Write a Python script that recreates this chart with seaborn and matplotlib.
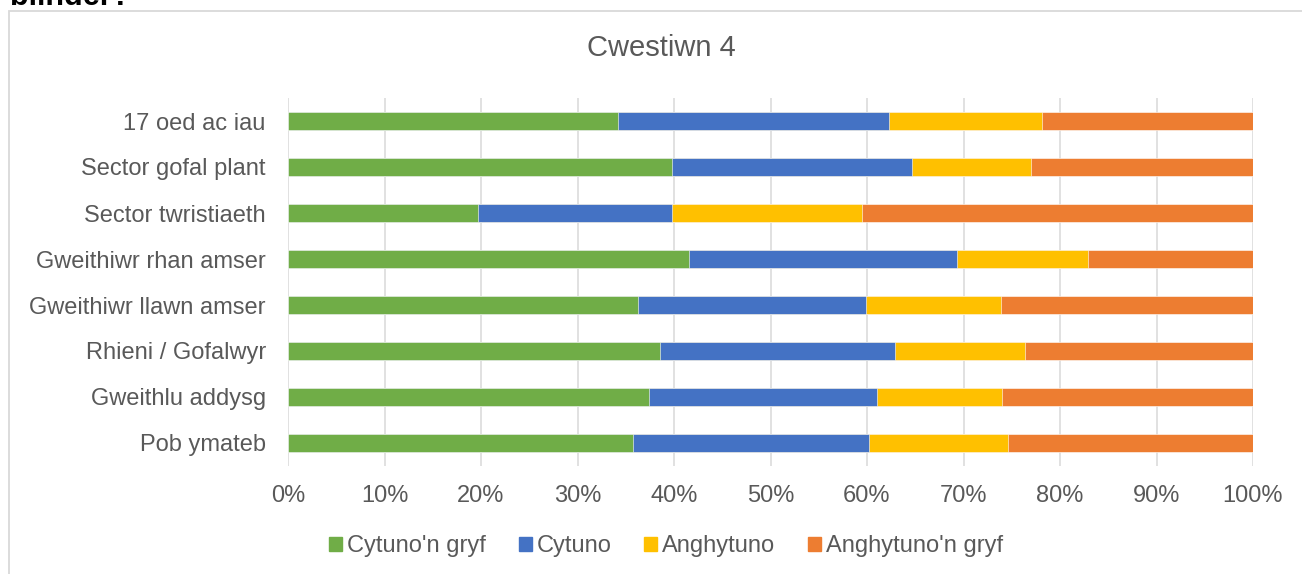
import seaborn as sns
import matplotlib.pyplot as plt
import matplotlib.patches as mpatches
import pandas as pd
import numpy as np

groups = ["17 oed ac iau", "Sector gofal plant", "Sector twristiaeth",
          "Gweithiwr rhan amser", "Gweithiwr llawn amser", "Rhieni / Gofalwyr",
          "Gweithlu addysg", "Pob ymateb"]
series = ["Cytuno'n gryf", "Cytuno", "Anghytuno", "Anghytuno'n gryf"]
cytuno_gryf = [34.2, 39.8, 19.7, 41.6, 36.3, 38.5, 37.4, 35.8]
cytuno = [28.1, 24.9, 20.1, 27.7, 23.6, 24.4, 23.6, 24.4]
anghytuno = [15.8, 12.3, 19.7, 13.6, 14.0, 13.5, 13.0, 14.4]
anghytuno_gryf = [21.9, 23.0, 40.5, 17.1, 26.1, 23.6, 26.0, 25.4]
colors = ["#70AD47", "#4472C4", "#FFC000", "#ED7D31"]

df = pd.DataFrame({"Grwp": groups, series[0]: cytuno_gryf, series[1]: cytuno,
                   series[2]: anghytuno, series[3]: anghytuno_gryf})
# stacked as percent of row total
vals = df[series].div(df[series].sum(axis=1), axis=0) * 100
cum = vals.cumsum(axis=1)

sns.set_theme(style="whitegrid")
plt.rcParams['font.family'] = ['Liberation Sans', 'DejaVu Sans']
txt = "#595959"

fig = plt.figure(figsize=(13.02, 5.74), dpi=100)
ax = fig.add_axes([288/1302, 1-466/574, (1253-288)/1302, (466-98)/574])

# draw longest cumulative first so shorter ones sit on top
for s, c in reversed(list(zip(series, colors))):
    sns.barplot(x=cum[s], y=df["Grwp"], color=c, width=0.4, orient="h",
                ax=ax, saturation=1, edgecolor="white", linewidth=0.4)

ax.set_xlim(0, 100)
ax.set_ylim(7.5, -0.5)
ax.set_xticks(np.arange(0, 101, 10))
ax.set_xticklabels([f"{v}%" for v in range(0, 101, 10)])
ax.set(xlabel="", ylabel="")
ax.grid(axis="x", color="#D9D9D9", linewidth=1.1)
ax.grid(axis="y", visible=False)
ax.set_axisbelow(True)
for sp in ax.spines.values():
    sp.set_visible(False)
ax.tick_params(axis="y", length=0, pad=16, labelsize=17, labelcolor=txt)
ax.tick_params(axis="x", length=0, pad=14, labelsize=17, labelcolor=txt)
ax.set_facecolor("white")

fig.text(661/1302, 1-48/574, "Cwestiwn 4", ha="center", va="center",
         fontsize=21, color=txt)
fig.text(10/1302, 1-5/574, "blinder?", ha="left", va="baseline",
         fontsize=22, fontweight="bold", color="black")

# chart area border
fig.add_artist(mpatches.Rectangle((9/1302, -0.1), 1.2, 1-11/574+0.1,
                                  transform=fig.transFigure, fill=False,
                                  edgecolor="#D9D9D9", linewidth=1.3))

handles = [mpatches.Patch(color=c, label=s) for s, c in zip(series, colors)]
fig.legend(handles=handles, loc="center", bbox_to_anchor=(666/1302, 1-546/574),
           ncol=4, frameon=False, fontsize=17, labelcolor=txt,
           handlelength=0.55, handleheight=0.55, handletextpad=0.2,
           columnspacing=1.4)

fig.savefig("out.png", dpi=100, facecolor="white")
